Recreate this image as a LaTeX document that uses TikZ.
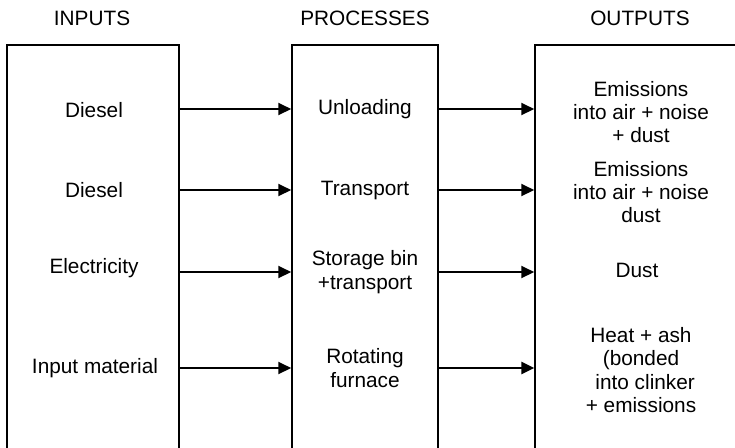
\documentclass[tikz,border=0pt]{standalone}
\usepackage{fontspec}
\setmainfont{Liberation Sans}
\usepackage{tikz}
\usetikzlibrary{arrows.meta,positioning,calc}

\begin{document}
\begin{tikzpicture}[x=0.5pt, y=-0.5pt,
  every node/.style={font=\fontsize{10.4}{11.7}\selectfont, inner sep=0pt, align=center},
  colbox/.style={draw, line width=0.75pt, minimum height=215pt},
  flow/.style={-{Triangle[length=6.5pt, width=6pt]}, line width=1pt},
  heavyflow/.style={flow, line width=1.4pt}]
  \useasboundingbox (0,0) rectangle (735,447);
  \clip (0,0) rectangle (735,447);
  % Column boxes (open at the foot of the page)
  \node[colbox, minimum width=86pt] (inbox) at (93,260) {};
  \node[colbox, minimum width=73pt] (procbox) at (365,260) {};
  \node[colbox, minimum width=112.5pt] (outbox) at (647.5,260) {};
  % Column headings
  \node (inhead) at (92,18) {INPUTS};
  \node (prochead) at (365,18) {PROCESSES};
  \node (outhead) at (640,18) {OUTPUTS};
  % Inputs
  \node (in1) at (94,110) {Diesel};
  \node (in2) at (94,190) {Diesel};
  \node (in3) at (94,268) {Electricity};
  \node (in4) at (95,368) {Input material};
  % Processes
  \node (proc1) at (365,109) {Unloading};
  \node (proc2) at (365,190) {Transport};
  \node (proc3) at (365,272) {Storage bin\\+transport};
  \node (proc4) at (365,368) {Rotating\\furnace};
  % Outputs
  \node (out1) at (641,112) {Emissions\\into air + noise\\+ dust};
  \node (out2) at (641,192) {Emissions\\into air + noise\\dust};
  \node (out3) at (637,270) {Dust};
  \node (out4) at (641,370) {Heat + ash\\(bonded\\\hspace*{0.4em}into clinker\\+ emissions};
  % Flows
  \draw[flow] (inbox.east |- proc1) -- (procbox.west |- proc1);
  \draw[flow] (inbox.east |- proc2) -- (procbox.west |- proc2);
  \draw[flow] (inbox.east |- proc3) -- (procbox.west |- proc3);
  \draw[flow] (inbox.east |- proc4) -- (procbox.west |- proc4);
  \draw[flow] (procbox.east |- proc1) -- (outbox.west |- proc1);
  \draw[flow] (procbox.east |- proc2) -- (outbox.west |- proc2);
  \draw[flow] (procbox.east |- proc3) -- (outbox.west |- proc3);
  \draw[heavyflow] (procbox.east |- proc4) -- (outbox.west |- proc4);
\end{tikzpicture}
\end{document}
